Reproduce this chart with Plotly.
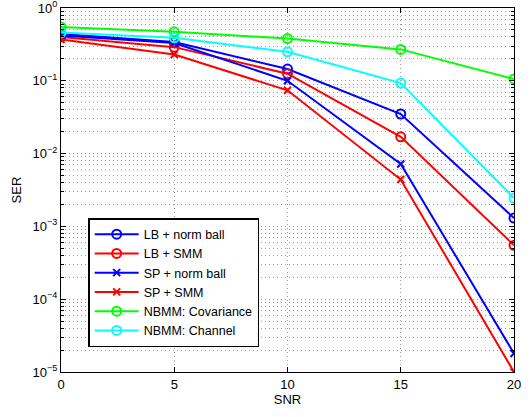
import plotly.graph_objects as go

snr = [0, 5, 10, 15, 20]
lb_norm = [0.44, 0.34, 0.145, 0.035, 0.0013]
lb_smm = [0.40, 0.29, 0.125, 0.017, 0.00055]
sp_norm = [0.42, 0.33, 0.10, 0.0072, 0.000018]
sp_smm = [0.37, 0.23, 0.074, 0.0044, 0.00001]
nb_cov = [0.55, 0.47, 0.38, 0.27, 0.106]
nb_chan = [0.46, 0.39, 0.25, 0.093, 0.00245]

y_tickvals = [1e-5, 1e-4, 1e-3, 1e-2, 1e-1, 1]
y_ticktext = ["10<sup>−5</sup>", "10<sup>−4</sup>", "10<sup>−3</sup>",
              "10<sup>−2</sup>", "10<sup>−1</sup>", "10<sup>0</sup>"]

series = [
    ("LB + norm ball", lb_norm, "#0000ff", "circle-open"),
    ("LB + SMM", lb_smm, "#ff0000", "circle-open"),
    ("SP + norm ball", sp_norm, "#0000ff", "x-thin-open"),
    ("SP + SMM", sp_smm, "#ff0000", "x-thin-open"),
    ("NBMM: Covariance", nb_cov, "#00ff00", "circle-open"),
    ("NBMM: Channel", nb_chan, "#00ffff", "circle-open"),
]

FONT = "Liberation Sans, Arial, sans-serif"

fig = go.Figure()
for name, y, c, sym in series:
    fig.add_trace(go.Scatter(
        x=snr, y=y, name=name, mode="lines+markers",
        line=dict(color=c, width=2),
        marker=dict(symbol=sym, size=9 if "circle" in sym else 7,
                    line=dict(color=c, width=2), color=c),
    ))

axis_common = dict(
    showline=True, linecolor="black", linewidth=1, mirror="ticks",
    ticks="inside", ticklen=5, tickcolor="black",
    showgrid=True, gridcolor="#a0a0a0", griddash="1px,3px", gridwidth=1,
    zeroline=False, tickfont=dict(family=FONT, size=13, color="black"),
    title_font=dict(family=FONT, size=13, color="black"),
    ticklabeloverflow="allow", automargin=False,
)

fig.update_xaxes(range=[0, 20], tickvals=[0, 5, 10, 15, 20], title_text="SNR",
                 title_standoff=0, **axis_common)
fig.update_yaxes(type="log", range=[-5, 0], tickvals=y_tickvals, ticktext=y_ticktext,
                 title_text="SER", title_standoff=8,
                 minor=dict(dtick="D1", showgrid=True, griddash="1px,3px",
                            gridcolor="#a0a0a0", ticks="inside", ticklen=3,
                            tickcolor="black"),
                 **axis_common)

fig.update_layout(
    width=531, height=417,
    margin=dict(l=61, r=17, t=8, b=45, autoexpand=False),
    plot_bgcolor="white", paper_bgcolor="white",
    font=dict(family=FONT, size=13, color="black"),
    legend=dict(x=0.06, y=0.423, xanchor="left", yanchor="top",
                bordercolor="black", borderwidth=1.5, bgcolor="white",
                font=dict(family=FONT, size=12.5), tracegroupgap=0,
                itemwidth=44),
    showlegend=True,
)

fig.write_html("out.html", config={"displayModeBar": False},
               post_script="document.body.style.margin='0';")
